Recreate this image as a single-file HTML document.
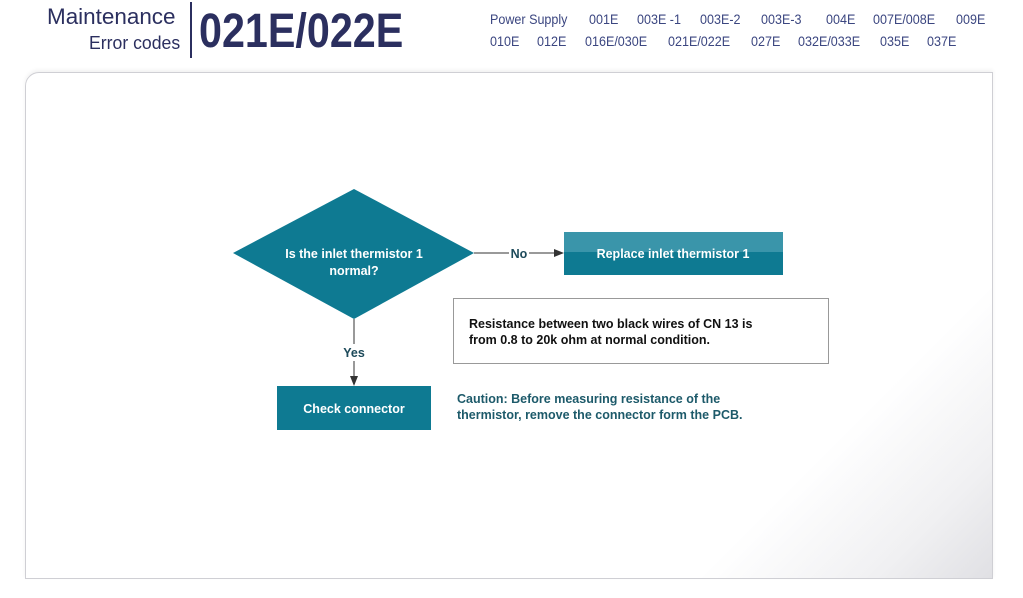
<!DOCTYPE html>
<html><head><meta charset="utf-8"><style>
body{margin:0;width:1023px;height:598px;background:#fff;position:relative;overflow:hidden;font-family:"Liberation Sans",sans-serif}
.a{position:absolute;white-space:nowrap}
.h{color:#2b2f5f;transform-origin:0 0}
.n{position:absolute;white-space:nowrap;color:#3b4680;font-size:13.5px;transform:scaleX(0.93);transform-origin:0 0}
</style></head><body>
<div class="a h" style="left:47px;top:4px;font-size:22px;transform:scaleX(1.02)">Maintenance</div>
<div class="a h" style="left:89px;top:33px;font-size:18px;transform:scaleX(0.98)">Error codes</div>
<div class="a" style="left:190px;top:2px;width:2px;height:56px;background:#2b2f5f"></div>
<div class="a h" style="left:199px;top:4px;font-size:48px;font-weight:bold;transform:scaleX(0.86)">021E/022E</div>
<div class="n" style="left:490px;top:12px">Power Supply</div>
<div class="n" style="left:589px;top:12px">001E</div>
<div class="n" style="left:637px;top:12px">003E -1</div>
<div class="n" style="left:700px;top:12px">003E-2</div>
<div class="n" style="left:761px;top:12px">003E-3</div>
<div class="n" style="left:826px;top:12px">004E</div>
<div class="n" style="left:873px;top:12px">007E/008E</div>
<div class="n" style="left:956px;top:12px">009E</div>
<div class="n" style="left:490px;top:34px">010E</div>
<div class="n" style="left:537px;top:34px">012E</div>
<div class="n" style="left:585px;top:34px">016E/030E</div>
<div class="n" style="left:668px;top:34px">021E/022E</div>
<div class="n" style="left:751px;top:34px">027E</div>
<div class="n" style="left:798px;top:34px">032E/033E</div>
<div class="n" style="left:880px;top:34px">035E</div>
<div class="n" style="left:927px;top:34px">037E</div>
<div class="a" style="left:25px;top:72px;width:966px;height:505px;border:1px solid #cfcfd4;border-radius:14px 0 0 0;background:linear-gradient(135deg,#fff 80%,#f0f0f2 92%,#e0e0e4 100%);box-shadow:0 -2px 4px rgba(0,0,0,.06)"></div>
<svg class="a" style="left:0;top:0" width="1023" height="598">
<polygon points="233,253 354,189 474,253 354,319" fill="#0e7a92"/>
<rect x="564" y="232" width="219" height="43" fill="#0e7a92"/>
<rect x="564" y="232" width="219" height="20" fill="#3a95aa"/>
<rect x="277" y="386" width="154" height="44" fill="#0e7a92"/>
<rect x="453.5" y="298.5" width="375" height="65" fill="#fff" stroke="#999"/>
<line x1="474" y1="253" x2="509" y2="253" stroke="#333"/>
<line x1="529" y1="253" x2="555" y2="253" stroke="#333"/>
<polygon points="554,249 564,253 554,257" fill="#333"/>
<line x1="354" y1="319" x2="354" y2="344" stroke="#333"/>
<line x1="354" y1="361" x2="354" y2="378" stroke="#333"/>
<polygon points="350,376 354,386 358,376" fill="#333"/>
<g font-family="Liberation Sans,sans-serif" font-weight="bold" font-size="12.5" fill="#fff" text-anchor="middle">
<text x="354" y="258">Is the inlet thermistor 1</text>
<text x="354" y="275">normal?</text>
<text x="673" y="258">Replace inlet thermistor 1</text>
<text x="354" y="413">Check connector</text>
</g>
<g font-family="Liberation Sans,sans-serif" font-weight="bold" font-size="12.5">
<text x="519" y="258" text-anchor="middle" fill="#1d4a5a">No</text>
<text x="354" y="357" text-anchor="middle" fill="#1d4a5a">Yes</text>
<text x="469" y="328" fill="#111">Resistance between two black wires of CN 13 is</text>
<text x="469" y="344" fill="#111">from 0.8 to 20k ohm at normal condition.</text>
<text x="457" y="403" fill="#1d5a6a">Caution: Before measuring resistance of the</text>
<text x="457" y="419" fill="#1d5a6a">thermistor, remove the connector form the PCB.</text>
</g>
</svg>
</body></html>
